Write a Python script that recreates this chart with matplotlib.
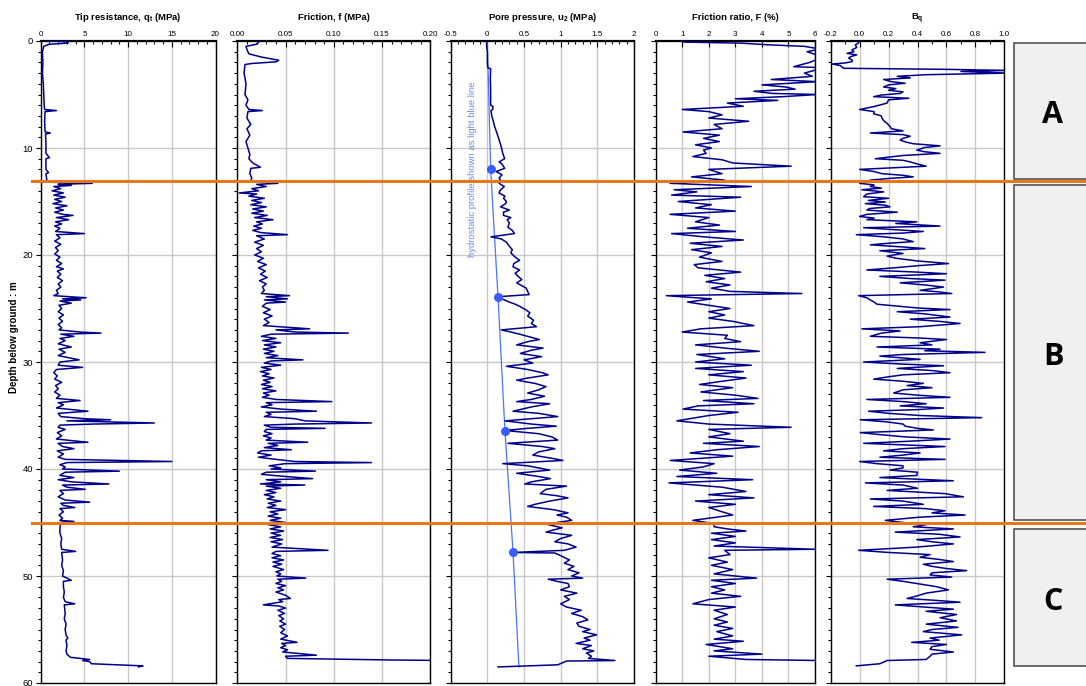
import matplotlib
matplotlib.use("Agg")
import matplotlib.pyplot as plt
from matplotlib import transforms
from matplotlib.lines import Line2D
from matplotlib.patches import Rectangle
from matplotlib.ticker import MultipleLocator, FuncFormatter

plt.rcParams["font.family"] = ["Liberation Sans", "DejaVu Sans"]
plt.rcParams["axes.unicode_minus"] = False

# --- CPT log (depth m, value) ---
qt_log = [
    (0.0, 0.5), (0.05, 3.2), (0.2, 3.1), (0.3, 1.0), (0.5, 0.35), (1.0, 0.2), (2.0, 0.25),
    (3.0, 0.2), (4.0, 0.3), (5.0, 0.35), (6.0, 0.4), (6.4, 0.45), (6.5, 1.8), (6.6, 0.5),
    (7.5, 0.45), (8.5, 0.5), (8.6, 1.1), (8.7, 0.55), (9.5, 0.6), (10.5, 0.6), (10.9, 1.0),
    (11.0, 0.6), (12.0, 0.6), (12.3, 0.9), (12.4, 0.6), (13.0, 0.7), (13.2, 1.2), (13.3, 5.9),
    (13.4, 2.0), (13.5, 3.5), (13.6, 1.5), (13.8, 2.3), (14.0, 1.3), (14.2, 2.6), (14.4, 1.5),
    (14.6, 2.8), (14.8, 1.6), (15.0, 2.4), (15.2, 1.4), (15.4, 3.0), (15.6, 1.7), (15.8, 2.6),
    (16.0, 1.6), (16.2, 2.5), (16.3, 3.7), (16.5, 1.8), (16.7, 3.2), (16.9, 1.7), (17.1, 2.4),
    (17.3, 1.6), (17.5, 2.2), (17.8, 1.7), (18.0, 5.0), (18.1, 1.8), (18.4, 2.2), (18.7, 1.6),
    (19.0, 2.3), (19.3, 1.7), (19.6, 2.0), (19.9, 1.6), (20.2, 2.2), (20.5, 1.8), (20.8, 2.4),
    (21.1, 1.8), (21.3, 2.6), (21.5, 1.9), (21.8, 2.3), (22.1, 1.9), (22.4, 2.5), (22.7, 2.0),
    (23.0, 2.3), (23.3, 1.8), (23.6, 2.0), (23.8, 1.5), (24.0, 5.2), (24.1, 2.5), (24.2, 4.6),
    (24.3, 2.2), (24.5, 3.5), (24.7, 2.1), (25.0, 2.4), (25.3, 2.0), (25.6, 2.6), (25.9, 2.1),
    (26.2, 2.5), (26.5, 2.0), (26.8, 2.4), (27.0, 2.1), (27.2, 4.5), (27.3, 6.9), (27.4, 2.3),
    (27.6, 3.8), (27.8, 2.2), (28.0, 2.8), (28.3, 2.0), (28.6, 3.5), (28.8, 2.1), (29.1, 2.8),
    (29.4, 2.0), (29.6, 3.2), (29.8, 4.4), (30.0, 2.2), (30.3, 2.0), (30.5, 4.8), (30.7, 1.8),
    (31.0, 1.5), (31.3, 1.9), (31.6, 1.6), (31.9, 2.4), (32.2, 1.7), (32.5, 2.0), (32.8, 1.6),
    (33.1, 2.2), (33.4, 1.8), (33.6, 4.5), (33.8, 2.0), (34.0, 2.6), (34.3, 1.8), (34.6, 5.4),
    (34.8, 2.0), (35.1, 2.3), (35.3, 5.0), (35.4, 8.0), (35.5, 3.0), (35.7, 13.0), (35.8, 6.0),
    (35.9, 2.2), (36.1, 2.0), (36.3, 2.8), (36.6, 1.9), (36.9, 2.4), (37.2, 1.8), (37.5, 5.4),
    (37.6, 2.0), (37.9, 2.5), (38.1, 3.8), (38.3, 1.9), (38.6, 2.6), (38.9, 2.0), (39.1, 2.8),
    (39.3, 15.0), (39.4, 3.0), (39.6, 2.2), (39.8, 2.8), (40.0, 2.5), (40.2, 9.0), (40.3, 2.8),
    (40.6, 2.2), (40.8, 3.8), (41.0, 2.0), (41.2, 3.5), (41.4, 7.8), (41.5, 2.5), (41.7, 3.0),
    (41.9, 5.1), (42.0, 2.2), (42.3, 2.6), (42.6, 2.0), (42.9, 2.8), (43.1, 5.6), (43.2, 2.3),
    (43.4, 2.6), (43.6, 3.9), (43.7, 2.2), (44.0, 2.6), (44.3, 2.1), (44.6, 2.5), (44.8, 2.2),
    (44.9, 3.8), (45.0, 2.3), (45.5, 2.2), (46.0, 2.2), (46.5, 2.4), (47.0, 2.3), (47.5, 2.4),
    (47.7, 4.0), (47.8, 2.4), (48.5, 2.5), (49.0, 2.4), (49.5, 2.6), (50.0, 2.5), (50.4, 3.5),
    (50.5, 2.6), (51.0, 2.6), (51.5, 2.7), (52.0, 2.6), (52.4, 2.8), (52.6, 3.9), (52.7, 2.7),
    (53.5, 2.8), (54.0, 2.7), (54.5, 2.9), (55.0, 2.8), (55.5, 2.9), (55.8, 3.1), (56.0, 2.9),
    (56.5, 3.0), (57.0, 2.9), (57.3, 3.0), (57.6, 3.4), (57.8, 5.6), (57.9, 4.8), (58.0, 5.6),
    (58.2, 5.8), (58.4, 11.7), (58.5, 11.2),
]

fs_log = [
    (0.0, 0.023), (0.3, 0.02), (0.5, 0.009), (0.8, 0.01), (1.2, 0.012), (1.5, 0.025), (1.8, 0.043),
    (1.95, 0.04), (2.1, 0.015), (2.2, 0.008), (3.0, 0.007), (4.0, 0.009), (5.0, 0.008),
    (5.5, 0.011), (6.0, 0.009), (6.4, 0.012), (6.5, 0.026), (6.6, 0.011), (7.2, 0.010),
    (7.8, 0.014), (8.2, 0.010), (8.8, 0.013), (9.4, 0.009), (10.0, 0.011), (10.6, 0.013),
    (11.0, 0.012), (11.4, 0.016), (11.8, 0.024), (11.9, 0.014), (12.4, 0.013), (12.8, 0.015),
    (13.1, 0.014), (13.3, 0.042), (13.4, 0.02), (13.6, 0.03), (13.8, 0.015), (14.0, 0.022),
    (14.2, 0.002), (14.3, 0.02), (14.5, 0.012), (14.7, 0.028), (14.9, 0.015), (15.1, 0.025),
    (15.3, 0.014), (15.5, 0.03), (15.7, 0.016), (15.9, 0.027), (16.1, 0.015), (16.3, 0.031),
    (16.5, 0.018), (16.7, 0.037), (16.9, 0.02), (17.1, 0.026), (17.3, 0.017), (17.5, 0.025),
    (17.7, 0.016), (17.9, 0.024), (18.1, 0.052), (18.2, 0.02), (18.5, 0.028), (18.8, 0.018),
    (19.1, 0.027), (19.4, 0.02), (19.7, 0.025), (20.0, 0.018), (20.3, 0.027), (20.6, 0.021),
    (20.9, 0.030), (21.2, 0.022), (21.5, 0.029), (21.8, 0.024), (22.1, 0.031), (22.4, 0.023),
    (22.7, 0.030), (23.0, 0.026), (23.3, 0.028), (23.6, 0.025), (23.8, 0.054), (23.9, 0.03),
    (24.1, 0.052), (24.2, 0.028), (24.4, 0.05), (24.5, 0.03), (24.8, 0.026), (25.1, 0.034),
    (25.4, 0.027), (25.7, 0.036), (26.0, 0.028), (26.3, 0.033), (26.6, 0.027), (26.9, 0.075),
    (27.0, 0.04), (27.2, 0.06), (27.3, 0.115), (27.4, 0.035), (27.6, 0.025), (27.8, 0.04),
    (28.0, 0.026), (28.2, 0.045), (28.4, 0.028), (28.6, 0.04), (28.8, 0.027), (29.0, 0.038),
    (29.2, 0.028), (29.4, 0.042), (29.6, 0.03), (29.8, 0.068), (29.9, 0.035), (30.1, 0.028),
    (30.3, 0.045), (30.5, 0.025), (30.7, 0.035), (30.9, 0.024), (31.1, 0.033), (31.3, 0.026),
    (31.5, 0.038), (31.7, 0.027), (31.9, 0.034), (32.1, 0.025), (32.3, 0.036), (32.5, 0.026),
    (32.7, 0.04), (32.9, 0.027), (33.1, 0.033), (33.3, 0.026), (33.5, 0.04), (33.7, 0.098),
    (33.8, 0.03), (34.0, 0.036), (34.2, 0.025), (34.4, 0.045), (34.6, 0.082), (34.7, 0.03),
    (34.9, 0.035), (35.1, 0.028), (35.3, 0.06), (35.5, 0.07), (35.7, 0.139), (35.8, 0.06),
    (35.9, 0.028), (36.1, 0.035), (36.2, 0.091), (36.3, 0.03), (36.5, 0.028), (36.7, 0.036),
    (36.9, 0.027), (37.1, 0.035), (37.3, 0.03), (37.5, 0.073), (37.6, 0.032), (37.8, 0.042),
    (38.0, 0.028), (38.2, 0.056), (38.3, 0.025), (38.5, 0.021), (38.7, 0.035), (38.9, 0.022),
    (39.1, 0.04), (39.3, 0.06), (39.4, 0.139), (39.5, 0.05), (39.7, 0.033), (39.9, 0.045),
    (40.0, 0.035), (40.2, 0.081), (40.3, 0.03), (40.5, 0.025), (40.7, 0.05), (40.9, 0.078),
    (41.0, 0.03), (41.2, 0.045), (41.4, 0.024), (41.5, 0.07), (41.6, 0.03), (41.8, 0.045),
    (42.0, 0.03), (42.2, 0.04), (42.4, 0.028), (42.6, 0.038), (42.8, 0.031), (43.0, 0.045),
    (43.2, 0.032), (43.4, 0.04), (43.6, 0.031), (43.8, 0.05), (44.0, 0.034), (44.2, 0.042),
    (44.4, 0.032), (44.6, 0.045), (44.8, 0.034), (45.0, 0.05), (45.2, 0.032), (45.4, 0.045),
    (45.6, 0.034), (45.8, 0.048), (46.0, 0.035), (46.2, 0.045), (46.4, 0.034), (46.6, 0.047),
    (46.8, 0.035), (47.0, 0.046), (47.3, 0.036), (47.6, 0.094), (47.7, 0.04), (47.9, 0.036),
    (48.1, 0.045), (48.3, 0.036), (48.5, 0.048), (48.7, 0.037), (48.9, 0.046), (49.1, 0.037),
    (49.4, 0.048), (49.6, 0.04), (49.8, 0.045), (50.0, 0.041), (50.2, 0.071), (50.3, 0.042),
    (50.5, 0.046), (50.7, 0.04), (50.9, 0.05), (51.1, 0.042), (51.3, 0.048), (51.5, 0.04),
    (51.8, 0.05), (52.1, 0.055), (52.2, 0.043), (52.4, 0.047), (52.7, 0.027), (52.8, 0.043),
    (53.0, 0.05), (53.2, 0.042), (53.5, 0.049), (53.7, 0.043), (54.0, 0.048), (54.2, 0.044),
    (54.5, 0.05), (54.7, 0.044), (55.0, 0.049), (55.3, 0.045), (55.6, 0.052), (55.9, 0.045),
    (56.2, 0.062), (56.3, 0.046), (56.5, 0.05), (56.7, 0.045), (56.9, 0.052), (57.1, 0.047),
    (57.4, 0.082), (57.5, 0.05), (57.7, 0.052), (57.8, 0.123), (57.85, 0.16), (57.9, 0.22),
]

u2_log = [
    (0.0, -0.01), (0.5, -0.01), (1.0, 0.0), (2.0, 0.0), (2.5, 0.005), (2.6, 0.045), (3.5, 0.04),
    (4.5, 0.045), (6.0, 0.045), (6.1, 0.075), (6.4, 0.075), (6.5, 0.05), (7.0, 0.06),
    (7.4, 0.077), (8.0, 0.1), (8.9, 0.145), (9.9, 0.19), (10.5, 0.21), (11.0, 0.236),
    (11.3, 0.16), (11.5, 0.2), (11.9, 0.236), (12.2, 0.12), (12.5, 0.2), (12.8, 0.16),
    (13.0, 0.18), (13.3, 0.16), (13.6, 0.23), (13.8, 0.2), (14.0, 0.17), (14.2, 0.16),
    (14.5, 0.24), (14.7, 0.22), (15.0, 0.26), (15.2, 0.25), (15.5, 0.18), (15.8, 0.3),
    (16.0, 0.22), (16.3, 0.22), (16.5, 0.32), (16.7, 0.27), (17.0, 0.3), (17.4, 0.28),
    (17.7, 0.34), (18.0, 0.37), (18.3, 0.05), (18.5, 0.19), (18.8, 0.26), (19.1, 0.29),
    (19.5, 0.34), (19.8, 0.32), (20.2, 0.38), (20.5, 0.44), (20.8, 0.36), (21.1, 0.35),
    (21.4, 0.44), (21.7, 0.38), (22.0, 0.42), (22.3, 0.47), (22.6, 0.40), (23.1, 0.53),
    (23.4, 0.55), (23.7, 0.57), (23.9, 0.145), (24.1, 0.2), (24.4, 0.30), (24.6, 0.38),
    (24.8, 0.44), (25.1, 0.52), (25.4, 0.58), (25.7, 0.55), (26.1, 0.63), (26.4, 0.60),
    (26.7, 0.67), (27.0, 0.19), (27.2, 0.32), (27.4, 0.44), (27.6, 0.55), (27.9, 0.71),
    (28.1, 0.55), (28.4, 0.40), (28.7, 0.76), (28.9, 0.60), (29.2, 0.45), (29.5, 0.74),
    (29.8, 0.50), (30.1, 0.62), (30.4, 0.26), (30.7, 0.55), (31.0, 0.75), (31.2, 0.83),
    (31.5, 0.55), (31.7, 0.40), (32.0, 0.65), (32.3, 0.80), (32.6, 0.70), (32.9, 0.55),
    (33.2, 0.78), (33.5, 0.60), (33.7, 0.40), (33.9, 0.85), (34.2, 0.60), (34.6, 0.35),
    (34.8, 0.70), (35.1, 0.96), (35.3, 0.60), (35.5, 0.24), (35.8, 0.60), (36.0, 0.94),
    (36.2, 0.55), (36.4, 0.24), (36.7, 0.70), (37.0, 0.88), (37.3, 0.96), (37.6, 0.28),
    (37.9, 0.75), (38.1, 0.92), (38.4, 0.70), (38.7, 0.62), (39.0, 0.88), (39.2, 1.03),
    (39.5, 0.21), (39.7, 0.55), (40.1, 0.85), (40.4, 0.40), (40.7, 0.70), (40.9, 0.86),
    (41.2, 0.60), (41.4, 0.51), (41.6, 1.08), (41.9, 0.80), (42.3, 0.72), (42.5, 0.95),
    (42.7, 1.10), (43.0, 0.85), (43.3, 0.65), (43.5, 0.55), (43.8, 0.90), (44.1, 1.10),
    (44.3, 0.95), (44.5, 1.08), (44.8, 1.15), (45.0, 0.95), (45.2, 0.83), (45.5, 1.02),
    (45.7, 0.90), (45.9, 0.80), (46.2, 1.15), (46.5, 1.0), (46.8, 0.92), (47.0, 1.10),
    (47.3, 1.21), (47.6, 1.05), (47.8, 0.35), (47.85, 0.92), (48.1, 1.0), (48.5, 1.12),
    (48.8, 1.05), (49.1, 1.18), (49.4, 1.10), (49.7, 1.25), (50.0, 1.15), (50.2, 1.30),
    (50.3, 0.83), (50.5, 0.95), (50.7, 1.10), (51.0, 1.12), (51.3, 1.00), (51.6, 1.22),
    (51.9, 1.05), (52.2, 1.12), (52.6, 1.00), (52.9, 1.08), (53.2, 1.28), (53.5, 1.15),
    (53.8, 1.30), (54.1, 1.37), (54.4, 1.22), (54.7, 1.25), (55.0, 1.40), (55.2, 1.30),
    (55.5, 1.49), (55.8, 1.32), (56.0, 1.40), (56.3, 1.21), (56.5, 1.42), (56.8, 1.30),
    (57.0, 1.45), (57.2, 1.35), (57.5, 1.42), (57.7, 1.38), (57.9, 1.74), (57.95, 1.08),
    (58.3, 0.96), (58.5, 0.145),
]

fr_log = [
    (0.0, 1.0), (0.1, 1.05), (0.2, 3.2), (0.35, 4.2), (0.5, 5.6), (0.75, 6.2), (1.0, 5.7),
    (1.5, 6.3), (2.0, 5.8), (2.4, 5.2), (2.5, 6.3), (2.8, 5.9), (3.0, 5.6), (3.3, 5.9),
    (3.6, 4.35), (3.8, 6.1), (4.1, 4.0), (4.3, 4.9), (4.5, 5.25), (4.7, 3.7), (4.9, 4.4),
    (5.0, 6.1), (5.2, 4.8), (5.4, 3.0), (5.55, 4.6), (5.7, 3.5), (5.8, 2.7), (6.1, 3.3),
    (6.4, 1.0), (6.6, 2.0), (6.9, 2.5), (7.2, 2.0), (7.5, 3.5), (7.8, 2.2), (8.2, 2.5),
    (8.5, 1.03), (8.8, 2.4), (9.1, 1.8), (9.4, 2.4), (9.7, 1.5), (10.0, 2.1), (10.2, 1.8),
    (10.5, 1.9), (10.8, 1.4), (11.1, 2.5), (11.4, 2.9), (11.7, 5.1), (12.0, 2.0), (12.4, 2.5),
    (12.7, 1.35), (13.0, 2.6), (13.3, 0.54), (13.6, 3.6), (13.9, 0.7), (14.1, 1.55),
    (14.4, 0.6), (14.6, 3.2), (15.0, 0.85), (15.3, 2.1), (15.6, 1.5), (15.9, 3.0), (16.2, 0.54),
    (16.5, 2.0), (16.9, 1.5), (17.2, 2.4), (17.5, 1.2), (17.8, 3.0), (18.0, 0.6), (18.3, 1.8),
    (18.6, 3.3), (18.9, 1.3), (19.2, 2.5), (19.5, 1.35), (19.8, 2.1), (20.2, 1.65), (20.6, 2.5),
    (20.9, 1.45), (21.2, 1.6), (21.6, 3.2), (21.9, 1.85), (22.2, 2.6), (22.5, 1.9), (22.8, 2.8),
    (23.1, 2.1), (23.4, 2.8), (23.6, 5.5), (23.8, 0.4), (24.1, 2.1), (24.4, 1.2), (24.7, 2.0),
    (25.0, 2.8), (25.3, 2.0), (25.6, 2.6), (25.9, 2.0), (26.2, 2.9), (26.6, 3.7), (26.9, 1.7),
    (27.2, 1.0), (27.5, 2.7), (27.8, 2.6), (28.1, 3.2), (28.4, 1.5), (28.7, 2.6), (29.0, 3.9),
    (29.3, 1.55), (29.7, 2.6), (30.0, 1.5), (30.3, 3.6), (30.6, 1.5), (30.9, 3.3), (31.2, 2.0),
    (31.5, 3.4), (31.8, 2.5), (32.1, 1.65), (32.4, 2.9), (32.8, 1.7), (33.1, 3.0), (33.4, 3.85),
    (33.6, 1.8), (33.9, 3.7), (34.1, 1.6), (34.4, 1.03), (34.7, 3.1), (35.0, 2.0), (35.5, 0.8),
    (35.8, 2.0), (36.1, 5.1), (36.3, 2.0), (36.7, 2.8), (37.0, 2.0), (37.4, 3.3), (37.6, 1.8),
    (37.9, 3.9), (38.2, 2.3), (38.5, 1.3), (38.8, 2.9), (39.2, 0.55), (39.5, 2.2), (39.8, 1.8),
    (40.1, 0.9), (40.4, 2.3), (40.7, 0.8), (41.0, 3.65), (41.3, 0.5), (41.7, 2.5), (42.1, 3.4),
    (42.4, 2.0), (42.7, 3.7), (43.0, 1.5), (43.3, 3.0), (43.6, 2.0), (44.0, 2.5), (44.3, 2.9),
    (44.6, 2.0), (44.8, 1.4), (45.1, 2.2), (45.4, 2.2), (45.6, 2.7), (45.8, 3.4), (46.0, 2.1),
    (46.3, 3.0), (46.6, 2.1), (46.9, 3.0), (47.2, 2.2), (47.5, 6.0), (47.6, 2.6), (48.0, 2.8),
    (48.3, 2.0), (48.7, 2.7), (49.0, 2.1), (49.4, 2.9), (49.8, 2.2), (50.2, 3.8), (50.4, 2.1),
    (50.7, 3.0), (51.0, 2.1), (51.3, 2.6), (51.6, 2.1), (51.9, 3.2), (52.2, 2.0), (52.6, 1.4),
    (52.9, 3.0), (53.2, 2.2), (53.6, 2.7), (54.0, 2.2), (54.3, 2.7), (54.6, 2.2), (54.9, 2.9),
    (55.2, 2.3), (55.6, 2.9), (55.9, 2.2), (56.1, 3.3), (56.4, 1.9), (56.8, 2.9), (57.0, 2.2),
    (57.3, 4.0), (57.5, 2.0), (57.8, 3.4), (57.9, 6.2),
]

bq_log = [
    (0.0, 0.0), (0.2, -0.01), (0.37, -0.03), (0.6, -0.02), (0.84, -0.053), (1.0, -0.04),
    (1.15, -0.087), (1.3, -0.02), (1.45, -0.06), (1.6, -0.076), (1.8, -0.05), (1.93, -0.053),
    (2.05, -0.1), (2.15, -0.19), (2.3, -0.133), (2.45, -0.12), (2.55, -0.11), (2.65, 0.60),
    (2.75, 1.02), (2.85, 0.7), (3.0, 1.02), (3.15, 0.46), (3.3, 0.26), (3.45, 0.35),
    (3.6, 0.166), (3.8, 0.22), (3.95, 0.315), (4.1, 0.2), (4.3, 0.166), (4.45, 0.25),
    (4.6, 0.2), (4.75, 0.3), (4.9, 0.28), (5.05, 0.15), (5.2, 0.097), (5.35, 0.34), (5.5, 0.2),
    (5.8, 0.19), (6.1, 0.108), (6.4, 0.0), (6.6, 0.1), (6.8, 0.097), (7.0, 0.15), (7.2, 0.154),
    (7.5, 0.17), (7.7, 0.19), (8.0, 0.21), (8.2, 0.22), (8.4, 0.3), (8.6, 0.074), (8.75, 0.3),
    (8.9, 0.35), (9.1, 0.3), (9.25, 0.28), (9.45, 0.32), (9.6, 0.37), (9.8, 0.556),
    (9.95, 0.45), (10.2, 0.395), (10.35, 0.45), (10.5, 0.556), (10.7, 0.3), (11.0, 0.108),
    (11.15, 0.3), (11.3, 0.35), (11.5, 0.4), (11.7, 0.46), (12.0, 0.0), (12.2, 0.1),
    (12.4, 0.154), (12.55, 0.3), (12.7, 0.37), (12.85, 0.2), (13.0, 0.074), (13.15, 0.05),
    (13.3, 0.0), (13.45, 0.1), (13.6, 0.074), (13.75, 0.15), (13.9, 0.016), (14.1, 0.166),
    (14.3, 0.05), (14.55, 0.028), (14.7, 0.2), (14.9, 0.06), (15.05, 0.177), (15.2, 0.04),
    (15.35, 0.18), (15.5, 0.21), (15.65, 0.07), (15.8, 0.05), (16.0, 0.26), (16.2, 0.05),
    (16.4, 0.0), (16.55, 0.1), (16.7, 0.05), (16.9, 0.395), (17.05, 0.25), (17.3, 0.556),
    (17.45, 0.028), (17.6, 0.2), (17.8, 0.44), (17.95, 0.3), (18.1, -0.023), (18.3, 0.166),
    (18.5, 0.3), (18.75, 0.37), (18.9, 0.2), (19.05, 0.074), (19.25, 0.3), (19.4, 0.45),
    (19.6, 0.14), (19.85, 0.3), (20.1, 0.19), (20.3, 0.25), (20.55, 0.395), (20.8, 0.614),
    (21.0, 0.4), (21.15, 0.28), (21.4, 0.05), (21.6, 0.4), (21.75, 0.6), (22.0, 0.14),
    (22.2, 0.35), (22.35, 0.59), (22.6, 0.28), (22.8, 0.45), (23.0, 0.58), (23.3, 0.418),
    (23.45, 0.55), (23.6, 0.637), (23.8, -0.007), (24.0, 0.05), (24.2, 0.074), (24.4, 0.1),
    (24.6, 0.12), (24.8, 0.28), (24.95, 0.4), (25.1, 0.625), (25.3, 0.26), (25.5, 0.45),
    (25.8, 0.625), (26.0, 0.35), (26.2, 0.55), (26.4, 0.694), (26.7, 0.418), (26.9, 0.016),
    (27.1, 0.28), (27.3, 0.15), (27.6, 0.074), (27.75, 0.4), (27.9, 0.6), (28.2, 0.418),
    (28.4, 0.5), (28.6, 0.12), (28.8, 0.556), (28.95, 0.45), (29.1, 0.867), (29.3, 0.3),
    (29.45, 0.14), (29.75, 0.418), (30.0, 0.028), (30.2, 0.3), (30.35, 0.58), (30.6, 0.26),
    (30.8, 0.5), (31.0, 0.625), (31.2, 0.3), (31.4, 0.19), (31.6, 0.097), (31.8, 0.3),
    (32.0, 0.44), (32.2, 0.328), (32.4, 0.5), (32.6, 0.3), (32.9, 0.235), (33.1, 0.4),
    (33.3, 0.625), (33.5, 0.05), (33.7, 0.3), (33.9, 0.46), (34.1, 0.28), (34.3, 0.58),
    (34.45, 0.4), (34.6, 0.062), (34.8, 0.2), (35.0, 0.418), (35.2, 0.844), (35.4, 0.005),
    (35.6, 0.19), (35.8, 0.3), (36.0, 0.315), (36.2, 0.4), (36.35, 0.51), (36.6, 0.005),
    (36.8, 0.15), (37.0, 0.315), (37.2, 0.625), (37.4, 0.35), (37.6, 0.028), (37.9, 0.59),
    (38.1, 0.3), (38.3, 0.166), (38.5, 0.418), (38.7, 0.3), (38.9, 0.14), (39.1, 0.59),
    (39.3, 0.0), (39.5, 0.12), (39.7, 0.3), (39.9, 0.3), (40.1, 0.21), (40.3, 0.4),
    (40.6, 0.395), (40.8, 0.14), (41.1, 0.648), (41.3, 0.04), (41.5, 0.3), (41.8, 0.4),
    (42.0, 0.19), (42.3, 0.59), (42.6, 0.717), (42.8, 0.074), (43.0, 0.3), (43.3, 0.44),
    (43.5, 0.097), (43.7, 0.45), (43.9, 0.59), (44.1, 0.5), (44.3, 0.729), (44.5, 0.418),
    (44.8, 0.177), (45.0, 0.3), (45.2, 0.46), (45.4, 0.37), (45.6, 0.648), (45.9, 0.246),
    (46.1, 0.55), (46.35, 0.694), (46.6, 0.395), (46.8, 0.5), (47.0, 0.648), (47.3, 0.395),
    (47.6, -0.007), (47.8, 0.2), (48.0, 0.487), (48.25, 0.418), (48.45, 0.55), (48.65, 0.648),
    (48.9, 0.44), (49.1, 0.5), (49.3, 0.6), (49.5, 0.74), (49.7, 0.5), (49.9, 0.487),
    (50.1, 0.637), (50.3, 0.19), (50.5, 0.3), (50.7, 0.395), (51.0, 0.533), (51.3, 0.614),
    (51.6, 0.46), (51.85, 0.4), (52.1, 0.328), (52.3, 0.55), (52.45, 0.694), (52.7, 0.246),
    (52.9, 0.45), (53.1, 0.648), (53.3, 0.46), (53.6, 0.67), (53.9, 0.556), (54.2, 0.67),
    (54.5, 0.46), (54.8, 0.68), (55.0, 0.5), (55.2, 0.44), (55.5, 0.706), (55.8, 0.487),
    (56.0, 0.55), (56.2, 0.36), (56.4, 0.6), (56.6, 0.5), (56.85, 0.487), (57.1, 0.648),
    (57.3, 0.5), (57.5, 0.487), (57.8, 0.46), (57.9, 0.19), (58.2, 0.14), (58.4, -0.023),
]

# hydrostatic profile and dissipation points
hydro_depth = [0.0, 12.0, 23.9, 36.45, 47.75, 58.5]
hydro_u0 = [0.0, 0.045, 0.145, 0.24, 0.35, 0.43]
dissip_depth = [12.0, 23.9, 36.45, 47.75]
dissip_u0 = [0.045, 0.145, 0.24, 0.35]

# soil zones
zone_labels = ["A", "B", "C"]
zone_top = [0.15, 13.45, 45.6]
zone_bottom = [12.9, 44.75, 58.4]
boundary_depths = [13.07, 45.08]

panels = [
    # log, title, xlim, major, minor, fmt, left px, right px
    (qt_log, r"Tip resistance, q$_\mathregular{t}$ (MPa)", (0, 20), 5, 1, "{:g}", 40.7, 215.5),
    (fs_log, "Friction, f (MPa)", (0, 0.2), 0.05, 0.01, "{:.2f}", 237.3, 430.3),
    (u2_log, r"Pore pressure, u$_\mathregular{2}$ (MPa)", (-0.5, 2), 0.5, 0.1, "{:g}", 450.7, 634.0),
    (fr_log, "Friction ratio, F (%)", (0, 6), 1, None, "{:g}", 655.7, 815.0),
    (bq_log, r"B$_\mathregular{q}$", (-0.2, 1.0), 0.2, 0.1, "{:.1f}", 830.7, 1004.3),
]

W, H = 1086, 686
fig = plt.figure(figsize=(W / 100, H / 100), dpi=100)
ax_top, ax_bot = 41, 683
navy = "#00008b"
grid_col = "#c8c8c8"

axes = []
for log, title, xlim, major, minor, fmt, left, right in panels:
    ax = fig.add_axes([left / W, 1 - ax_bot / H, (right - left) / W, (ax_bot - ax_top) / H])
    depth = [d for d, _ in log]
    vals = [v for _, v in log]
    ax.plot(vals, depth, color=navy, lw=1.1, zorder=3)
    ax.set_xlim(*xlim)
    ax.set_ylim(60, 0)
    ax.xaxis.tick_top()
    ax.xaxis.set_major_locator(MultipleLocator(major))
    if minor:
        ax.xaxis.set_minor_locator(MultipleLocator(minor))
    ax.xaxis.set_major_formatter(FuncFormatter(lambda v, p, f=fmt: f.format(v)))
    ax.yaxis.set_major_locator(MultipleLocator(10))
    ax.yaxis.set_minor_locator(MultipleLocator(1))
    ax.tick_params(axis="x", which="both", direction="in", top=True, bottom=False,
                   labelsize=5.8, pad=2, width=0.8)
    ax.tick_params(axis="x", which="major", length=4)
    ax.tick_params(axis="x", which="minor", length=2.5)
    ax.tick_params(axis="y", which="both", direction="out", width=0.8, labelsize=6.8, pad=2)
    ax.tick_params(axis="y", which="major", length=3.5)
    ax.tick_params(axis="y", which="minor", length=2)
    ax.grid(True, which="major", color=grid_col, lw=1.0, zorder=0)
    for s in ax.spines.values():
        s.set_linewidth(1.0)
    ax.spines["top"].set_linewidth(1.6)
    ax.set_title(title, fontsize=6.8, fontweight="bold", pad=15)
    if axes:
        ax.tick_params(axis="y", labelleft=False)
    axes.append(ax)

ax1, ax3 = axes[0], axes[2]
fig.text(14 / W, 1 - 337 / H, "Depth below ground : m", rotation=90, fontsize=7,
         fontweight="bold", ha="center", va="center")

# hydrostatic line
ax3.plot(hydro_u0, hydro_depth, color="#4d72ff", lw=0.9, zorder=2)
ax3.plot(dissip_u0, dissip_depth, "o", color="#3a5cff", ms=5.5, zorder=4)
ax3.text(-0.2, 12.0, "hydrostatic profile shown as light blue line", rotation=90,
         color="#6a8aff", fontsize=6.8, ha="center", va="center")

# zone boundaries and labels across the whole figure
blend = transforms.blended_transform_factory(fig.transFigure, ax1.transData)
for d in boundary_depths:
    fig.add_artist(Line2D([32 / W, 1.0], [d, d], transform=blend, color="#e8761c",
                          lw=2.2, zorder=10))
for lab, top, bot in zip(zone_labels, zone_top, zone_bottom):
    fig.add_artist(Rectangle((1014.3 / W, bot), 0.08, top - bot, transform=blend,
                             facecolor="#f0f0f0", edgecolor="#444444", lw=1.1))
    fig.text(1053 / W, (top + bot) / 2 + 0.4, lab, transform=blend, fontsize=22,
             fontweight="bold", ha="center", va="center", family=["Open Sans", "DejaVu Sans"])

fig.savefig("out.png", dpi=100)
